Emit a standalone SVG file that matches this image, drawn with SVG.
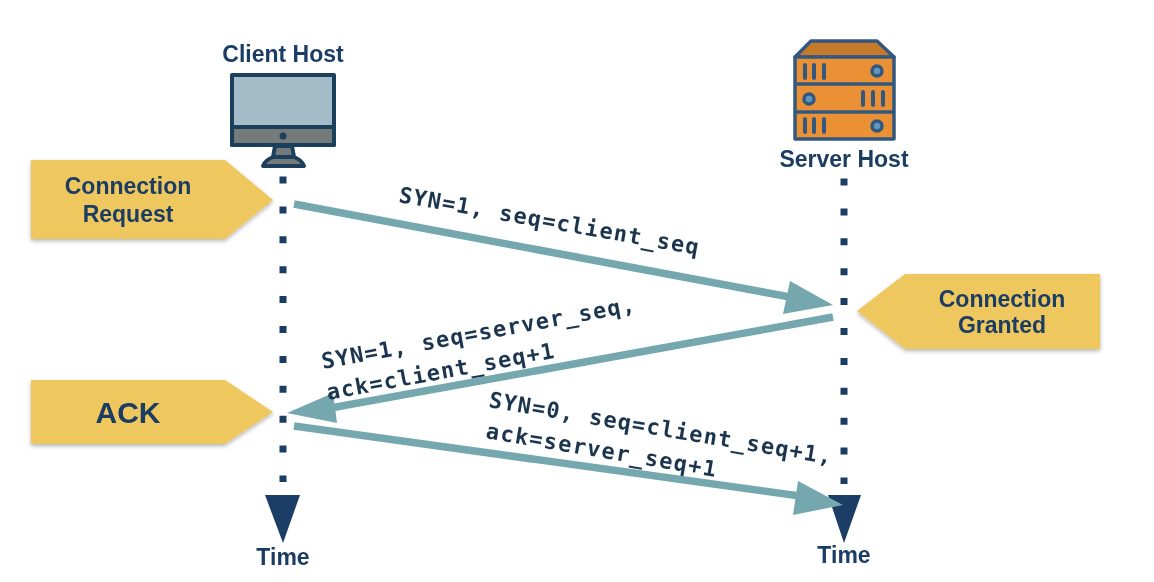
<svg xmlns="http://www.w3.org/2000/svg" width="1154" height="582" viewBox="0 0 1154 582">
<style>
.lbl{font-family:"Liberation Sans",Arial,sans-serif;font-weight:700;fill:#1c3d63;text-anchor:middle;font-size:23px}
.msg{font-family:"DejaVu Sans Mono","Liberation Mono",monospace;font-weight:600;font-size:22px;fill:#1f3650}
.tag{fill:#efc75e;filter:url(#sh)}
.arr{stroke:#75a7ae;stroke-width:7.500;fill:none}
.head{fill:#75a7ae}
.life{stroke:#1c3d63;stroke-width:7;stroke-dasharray:7 22.9;fill:none}
.tri{fill:#1a3c66}
.ic{stroke:#1f3f5c;stroke-width:4;stroke-linejoin:round}
.sv{stroke:#33597f;stroke-width:3.500;stroke-linejoin:round}
.bar{stroke:#33597f;stroke-width:4;stroke-linecap:round}
</style>
<defs>
<filter id="b" x="-2%" y="-2%" width="104%" height="104%"><feGaussianBlur stdDeviation="0.6"/></filter>
<filter id="sh" x="-5%" y="-10%" width="110%" height="125%"><feDropShadow dx="0" dy="2" stdDeviation="2" flood-color="#000" flood-opacity="0.3"/></filter>
</defs>
<rect width="1154" height="582" fill="#fff"/>
<g filter="url(#b)">
<g id="lifelines">
<line class="life" x1="283" y1="176.500" x2="283" y2="482"/>
<path class="tri" d="M265 495H300L283 543Z"/>
<line class="life" x1="844" y1="178.500" x2="844" y2="484"/>
<path class="tri" d="M828 495H861L844 543Z"/>
</g>
<g id="client-host">
<text class="lbl" x="283" y="62">Client Host</text>
<rect class="ic" x="232" y="75" width="102" height="70" fill="#a3bcc7"/>
<path class="ic" d="M232 127H334V145H232Z" fill="#757a7a"/>
<circle cx="283" cy="136" r="3.500" fill="#1f3f5c"/>
<path class="ic" d="M275 146H292L294 157H273Z" fill="#757a7a"/>
<path class="ic" d="M273 157H294Q302 160 304 166H263Q265 160 273 157Z" fill="#757a7a"/>
</g>
<g id="server-host">
<path class="sv" d="M795 57L811 41H877L894 57Z" fill="#c47a2c"/>
<rect class="sv" x="795" y="57" width="99" height="82" fill="#ea9135"/>
<path class="sv" d="M795 84H894M795 112H894" fill="none"/>
<path class="bar" d="M805 65V78M814 65V78M824 65V78M863 92V105M873 92V105M883 92V105M805 119V132M814 119V132M824 119V132"/>
<g fill="#5f97bd" stroke="#33597f" stroke-width="3.500">
<circle cx="877" cy="71" r="5"/><circle cx="809" cy="99" r="5"/><circle cx="877" cy="126" r="5"/>
</g>
<text class="lbl" x="844" y="167">Server Host</text>
</g>
<g id="connection-request">
<path class="tag" d="M31 160H225L273 200L225 239H31Z"/>
<text class="lbl" x="128" y="194">Connection</text>
<text class="lbl" x="128" y="222">Request</text>
</g>
<g id="connection-granted">
<path class="tag" d="M1100 274H905L857 311L905 349H1100Z"/>
<text class="lbl" x="1002" y="307">Connection</text>
<text class="lbl" x="1002" y="333">Granted</text>
</g>
<g id="ack">
<path class="tag" d="M31 380H225L273 412L225 444H31Z"/>
<text class="lbl" x="128" y="423" style="font-size:30px">ACK</text>
</g>
<g id="connectors">
<line class="arr" x1="294" y1="204" x2="795" y2="298"/>
<path class="head" d="M833 305L790 281L783 314Z"/>
<line class="arr" x1="833" y1="317" x2="325" y2="409"/>
<path class="head" d="M287 413L333 393L337 423Z"/>
<line class="arr" x1="294" y1="426" x2="800" y2="496"/>
<path class="head" d="M843 505L798 481L793 515Z"/>
</g>
<g id="messages">
<text class="msg" transform="translate(398 202) rotate(10)" textLength="304" lengthAdjust="spacing">SYN=1, seq=client_seq</text>
<text class="msg" transform="translate(323 369) rotate(-10.400)" textLength="318" lengthAdjust="spacing">SYN=1, seq=server_seq,</text>
<text class="msg" transform="translate(328 400) rotate(-10.500)" textLength="231" lengthAdjust="spacing">ack=client_seq+1</text>
<text class="msg" transform="translate(488 407) rotate(9.500)" textLength="347" lengthAdjust="spacing">SYN=0, seq=client_seq+1,</text>
<text class="msg" transform="translate(485 438) rotate(9.600)" textLength="233" lengthAdjust="spacing">ack=server_seq+1</text>
</g>
<g id="time-labels">
<text class="lbl" x="283" y="565">Time</text>
<text class="lbl" x="844" y="563">Time</text>
</g>
</g>
</svg>
